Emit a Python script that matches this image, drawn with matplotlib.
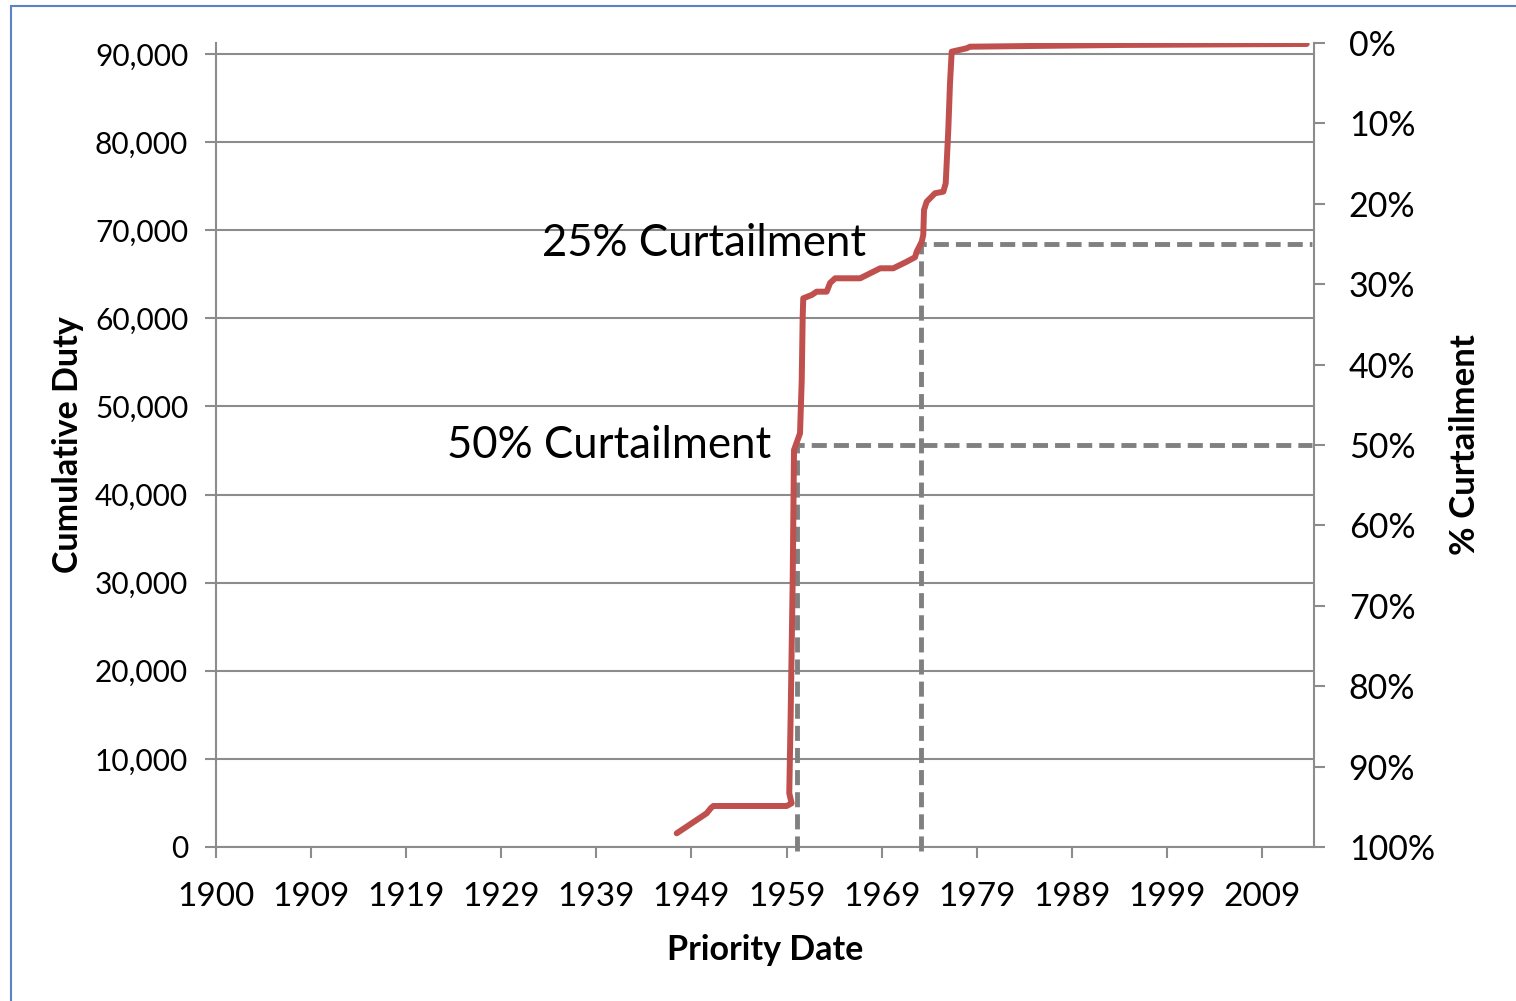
import matplotlib.pyplot as plt
import matplotlib.patches as patches
import numpy as np

plt.rcParams['font.family'] = ['Lato', 'DejaVu Sans']

# Cumulative duty by priority date (decimal years)
priority_year = [1948.41, 1951.56, 1952.01, 1952.26, 1959.97, 1960.49, 1960.24,
                 1960.39, 1960.60, 1960.74, 1961.37, 1961.55, 1961.65, 1961.71,
                 1962.60, 1963.12, 1964.17, 1964.53, 1965.06, 1967.69, 1969.79,
                 1971.17, 1972.58, 1973.45, 1973.63, 1974.16, 1974.32, 1974.40,
                 1974.68, 1975.55, 1976.43, 1976.68, 1976.95, 1977.13, 1977.31,
                 1978.88, 1979.23, 1995.31, 2014.61]
cumulative_duty = [1555, 3825, 4427, 4654, 4654, 4960, 6095,
                   15175, 30305, 45060, 46955, 53005, 60190, 62277,
                   62652, 63027, 63027, 64014, 64545, 64545, 65680,
                   65680, 66430, 66930, 67566, 68700, 69462, 72300,
                   73240, 74195, 74375, 75330, 81380, 86680, 90266,
                   90650, 90830, 91030, 91140]
total_duty = 91250

# curtailment levels and the priority date where each one cuts off
curtail_pct = [0.50, 0.25]
curtail_year = [1961.02, 1974.05]
curtail_text = ['50% Curtailment', '25% Curtailment']
curtail_text_x = [1958.3, 1968.3]

year_labels = ['1900', '1909', '1919', '1929', '1939', '1949', '1959',
               '1969', '1979', '1989', '1999', '2009']
duty_ticks = np.arange(0, 90001, 10000)
pct_ticks = np.arange(0, 1.01, 0.1)

grey = '#8c8c8c'

fig = plt.figure(figsize=(15.16, 10.01), dpi=100)
ax = fig.add_axes([216/1516, 1 - 847/1001, (1314-216)/1516, (847-43)/1001])

ax.plot(priority_year, cumulative_duty, color='#c0504d', lw=4.3,
        solid_joinstyle='round', solid_capstyle='round', zorder=4)

for pct, yr, txt, tx in zip(curtail_pct, curtail_year, curtail_text, curtail_text_x):
    level = total_duty * (1 - pct)
    ax.plot([yr, yr, 2015.2], [-500, level, level], color='#808080', lw=3.5,
            dashes=(3.1, 1.45), zorder=3, clip_on=False)
    ax.text(tx, level, txt, ha='right', va='center', fontsize=31.5)

x0 = 1900
xticks = [x0 + k * 3650 / 365.25 for k in range(len(year_labels))]
ax.set_xlim(1900, 2015.38)
ax.set_ylim(0, total_duty)
ax.set_xticks(xticks)
ax.set_xticklabels(year_labels)
ax.set_yticks(duty_ticks)
ax.set_yticklabels([f'{v:,}' for v in duty_ticks])
ax.grid(axis='y', color=grey, lw=1.5)
ax.set_axisbelow(True)
ax.tick_params(axis='both', color=grey, width=1.5, length=8)
ax.tick_params(axis='y', labelsize=21.5, pad=12)
ax.tick_params(axis='x', labelsize=24, pad=17)
for s in ['top', 'right']:
    ax.spines[s].set_visible(False)
for s in ['left', 'bottom']:
    ax.spines[s].set_color(grey)
    ax.spines[s].set_linewidth(1.5)

ax2 = ax.twinx()
ax2.set_ylim(1, 0)
ax2.set_yticks(pct_ticks)
ax2.set_yticklabels([f'{p:.0%}' for p in pct_ticks])
ax2.tick_params(axis='y', labelsize=24.5, color=grey, width=1.5, length=8, pad=17)
for s in ['top', 'left', 'bottom']:
    ax2.spines[s].set_visible(False)
ax2.spines['right'].set_color(grey)
ax2.spines['right'].set_linewidth(1.5)

fig.text(68/1516, 1 - 445/1001, 'Cumulative Duty', rotation=90, ha='center',
         va='center', fontsize=24.5, fontweight='bold')
fig.text(1465/1516, 1 - 445/1001, '% Curtailment', rotation=90, ha='center',
         va='center', fontsize=25, fontweight='bold')
fig.text(765/1516, 1 - 950/1001, 'Priority Date', ha='center', va='center',
         fontsize=24.5, fontweight='bold')

# chart frame
fig.patches.append(patches.Rectangle((11/1516, -0.05), 1.1, 1 - 6/1001 + 0.05,
                                     transform=fig.transFigure, fill=False,
                                     edgecolor='#5b83c4', lw=1.5))

fig.savefig('out.png', dpi=100)
